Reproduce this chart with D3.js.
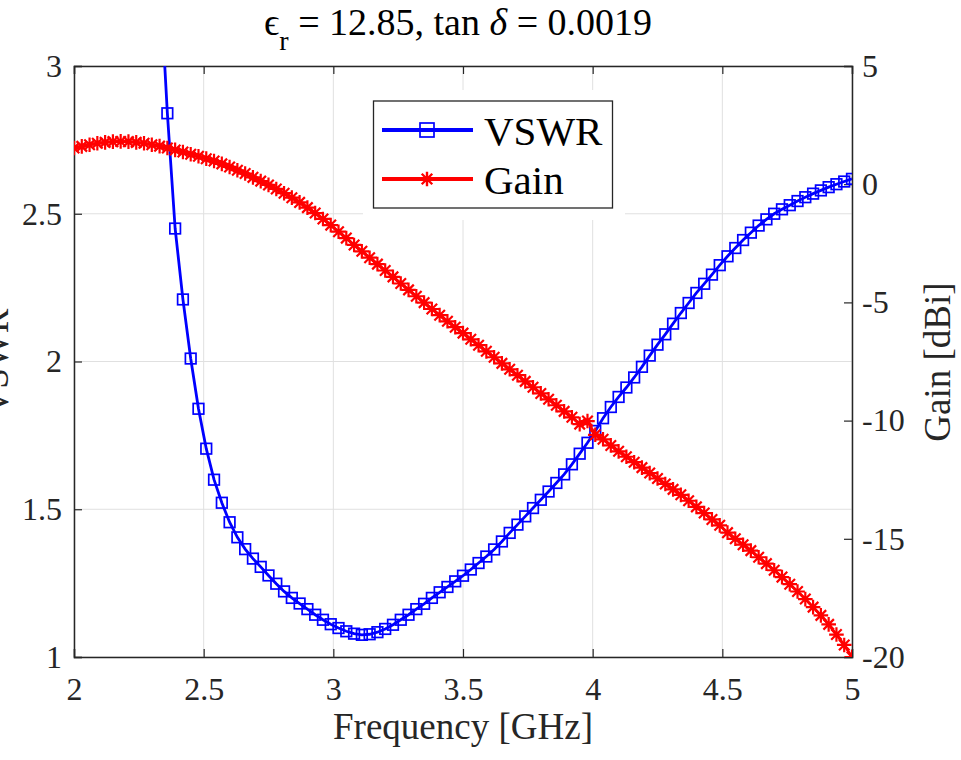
<!DOCTYPE html>
<html><head><meta charset="utf-8">
<script src="https://cdn.jsdelivr.net/npm/d3@7"></script>
<style>body{margin:0;background:#fff} svg{display:block} text{font-family:'Liberation Serif','Times New Roman',serif}</style>
</head><body>
<svg id="c" width="961" height="760"></svg>
<script>
const freq = [2.00,2.03,2.06,2.09,2.12,2.15,2.18,2.21,2.24,2.27,2.30,2.33,2.36,2.39,2.42,2.45,2.48,2.51,2.54,2.57,
2.60,2.63,2.66,2.69,2.72,2.75,2.78,2.81,2.84,2.87,2.90,2.93,2.96,2.99,3.02,3.05,3.08,3.11,3.14,3.17,
3.20,3.23,3.26,3.29,3.32,3.35,3.38,3.41,3.44,3.47,3.50,3.53,3.56,3.59,3.62,3.65,3.68,3.71,3.74,3.77,
3.80,3.83,3.86,3.89,3.92,3.95,3.98,4.01,4.04,4.07,4.10,4.13,4.16,4.19,4.22,4.25,4.28,4.31,4.34,4.37,
4.40,4.43,4.46,4.49,4.52,4.55,4.58,4.61,4.64,4.67,4.70,4.73,4.76,4.79,4.82,4.85,4.88,4.91,4.94,4.97,5.00];
const vswr = [12.0,10.6,9.3,8.2,7.2,6.3,5.5,4.8,4.3,3.85,3.55,3.32,2.84,2.45,2.21,2.01,1.84,1.705,1.60,1.522,
1.456,1.405,1.365,1.333,1.305,1.276,1.248,1.222,1.200,1.181,1.162,1.143,1.126,1.111,1.098,1.087,1.079,1.075,1.077,1.084,
1.095,1.109,1.126,1.143,1.162,1.180,1.200,1.219,1.237,1.256,1.275,1.296,1.318,1.340,1.364,1.391,1.420,1.448,1.476,1.504,
1.532,1.560,1.589,1.618,1.652,1.688,1.725,1.765,1.808,1.846,1.880,1.912,1.946,1.982,2.020,2.057,2.092,2.128,2.164,2.198,
2.232,2.263,2.294,2.326,2.356,2.384,2.411,2.436,2.460,2.481,2.500,2.515,2.529,2.543,2.556,2.568,2.579,2.590,2.600,2.609,2.618];
const gain = [1.53,1.60,1.67,1.73,1.77,1.80,1.81,1.80,1.77,1.73,1.67,1.61,1.53,1.45,1.36,1.27,1.18,1.08,0.98,0.86,
0.73,0.59,0.45,0.29,0.13,-0.03,-0.20,-0.38,-0.57,-0.77,-0.99,-1.22,-1.47,-1.73,-2.01,-2.28,-2.57,-2.84,-3.11,-3.38,
-3.65,-3.92,-4.20,-4.47,-4.74,-5.01,-5.28,-5.54,-5.80,-6.05,-6.30,-6.56,-6.81,-7.07,-7.32,-7.58,-7.83,-8.08,-8.34,-8.59,
-8.85,-9.10,-9.35,-9.61,-9.86,-10.15,-10.02,-10.60,-10.79,-11.05,-11.30,-11.53,-11.76,-11.99,-12.22,-12.45,-12.68,-12.91,-13.14,-13.39,
-13.65,-13.91,-14.18,-14.43,-14.74,-15.00,-15.25,-15.50,-15.78,-16.05,-16.33,-16.62,-16.92,-17.23,-17.55,-17.89,-18.24,-18.62,-19.05,-19.49,-20.0];
const xTicks = [2,2.5,3,3.5,4,4.5,5];
const xTickLabels = ["2","2.5","3","3.5","4","4.5","5"];
const yLTicks = [1,1.5,2,2.5,3];
const yLTickLabels = ["1","1.5","2","2.5","3"];
const yRTicks = [-20,-15,-10,-5,0,5];
const yRTickLabels = ["-20","-15","-10","-5","0","5"];
const seriesNames = ["VSWR","Gain"];

const FONT = "'Liberation Serif','Times New Roman',serif";
const L=74, R=852, T=66, B=657;
const svg = d3.select("#c");
const x = d3.scaleLinear().domain([2,5]).range([L,R]);
const yL = d3.scaleLinear().domain([1,3]).range([B,T]);
const yR = d3.scaleLinear().domain([-20,5]).range([B,T]);
const axisCol = "#262626";

svg.append("defs").append("clipPath").attr("id","clip")
  .append("rect").attr("x",L).attr("y",T).attr("width",R-L).attr("height",B-T);

// grid
const g = svg.append("g");
g.selectAll(".gx").data(xTicks).join("line")
  .attr("x1",d=>x(d)).attr("x2",d=>x(d)).attr("y1",T).attr("y2",B)
  .attr("stroke","#e0e0e0").attr("stroke-width",1);
g.selectAll(".gy").data(yLTicks).join("line")
  .attr("x1",L).attr("x2",R).attr("y1",d=>yL(d)).attr("y2",d=>yL(d))
  .attr("stroke","#e0e0e0").attr("stroke-width",1);

// axes (inward ticks)
const axB = svg.append("g").attr("transform",`translate(0,${B})`)
  .call(d3.axisBottom(x).tickValues(xTicks).tickFormat(d=>xTickLabels[xTicks.indexOf(d)]).tickSize(-8).tickPadding(20));
const axT = svg.append("g").attr("transform",`translate(0,${T})`)
  .call(d3.axisTop(x).tickValues(xTicks).tickFormat("").tickSize(-8));
const axL = svg.append("g").attr("transform",`translate(${L},0)`)
  .call(d3.axisLeft(yL).tickValues(yLTicks).tickFormat(d=>yLTickLabels[yLTicks.indexOf(d)]).tickSize(-8).tickPadding(12));
const axR = svg.append("g").attr("transform",`translate(${R},0)`)
  .call(d3.axisRight(yR).tickValues(yRTicks).tickFormat(d=>yRTickLabels[yRTicks.indexOf(d)]).tickSize(-8).tickPadding(10));
[axB,axT,axL,axR].forEach(a=>{
  a.attr("font-family",FONT);
  a.selectAll("path").attr("stroke",axisCol).attr("stroke-width",1.5);
  a.selectAll("line").attr("stroke",axisCol).attr("stroke-width",1.2);
  a.selectAll("text").style("font-family",FONT).attr("font-size",32).attr("fill","#262626");
});
axB.selectAll("text").attr("dy","0.71em");

// series
const plot = svg.append("g").attr("clip-path","url(#clip)");
const idx = d3.range(freq.length);
const lineV = d3.line().x(i=>x(freq[i])).y(i=>yL(vswr[i]));
const lineG = d3.line().x(i=>x(freq[i])).y(i=>yR(gain[i]));
const blue="#0000ff", red="#ff0000";
plot.append("path").attr("d",lineV(idx)).attr("fill","none").attr("stroke",blue).attr("stroke-width",2.8);
plot.selectAll(".sq").data(idx).join("rect")
  .attr("x",i=>x(freq[i])-5.3).attr("y",i=>yL(vswr[i])-5.3).attr("width",10.6).attr("height",10.6)
  .attr("fill","none").attr("stroke",blue).attr("stroke-width",1.7);
plot.append("path").attr("d",lineG(idx)).attr("fill","none").attr("stroke",red).attr("stroke-width",2.8);
const s=7.3, k=0.72*s;
const star = `M${-s},0H${s}M0,${-s}V${s}M${-k},${-k}L${k},${k}M${-k},${k}L${k},${-k}`;
plot.selectAll(".st").data(idx).join("path")
  .attr("transform",i=>`translate(${x(freq[i])},${yR(gain[i])})`)
  .attr("d",star).attr("fill","none").attr("stroke",red).attr("stroke-width",2.2);

// legend
const lg = svg.append("g");
lg.append("rect").attr("x",363).attr("y",90).attr("width",262).attr("height",130).attr("fill","#fff");
lg.append("rect").attr("x",373.5).attr("y",101).attr("width",239).attr("height",107)
  .attr("fill","#fff").attr("stroke",axisCol).attr("stroke-width",1.3);
const ly = [130,179];
lg.append("line").attr("x1",382).attr("x2",473).attr("y1",ly[0]).attr("y2",ly[0]).attr("stroke",blue).attr("stroke-width",4);
lg.append("rect").attr("x",420).attr("y",ly[0]-7).attr("width",14).attr("height",14).attr("fill","none").attr("stroke",blue).attr("stroke-width",1.7);
lg.append("line").attr("x1",382).attr("x2",473).attr("y1",ly[1]).attr("y2",ly[1]).attr("stroke",red).attr("stroke-width",4);
lg.append("path").attr("transform",`translate(427,${ly[1]})`).attr("d",star).attr("fill","none").attr("stroke",red).attr("stroke-width",2.4);
lg.selectAll(".lt").data(seriesNames).join("text")
  .attr("x",484).attr("y",(d,i)=>ly[i]+15).text(d=>d)
  .attr("font-family",FONT).attr("font-size",41).attr("fill","#000");

// labels
svg.append("text").attr("x",463).attr("y",739).attr("text-anchor","middle")
  .attr("font-family",FONT).attr("font-size",37).attr("fill","#262626").text("Frequency [GHz]");
svg.append("text").attr("transform",`translate(8,362) rotate(-90)`).attr("text-anchor","middle")
  .attr("font-family",FONT).attr("font-size",37).attr("fill","#262626").text("VSWR");
svg.append("text").attr("transform",`translate(950,362) rotate(-90)`).attr("text-anchor","middle")
  .attr("font-family",FONT).attr("font-size",37).attr("fill","#262626").text("Gain [dBi]");

// title
const tt = svg.append("text").attr("x",458).attr("y",35).attr("text-anchor","middle")
  .attr("font-family",FONT).attr("font-size",38).attr("fill","#000");
tt.append("tspan").text("ϵ");
tt.append("tspan").attr("dy",15).attr("font-size",28).text("r");
tt.append("tspan").attr("dy",-15).text(" = 12.85, tan ");
tt.append("tspan").attr("font-style","italic").text("δ");
tt.append("tspan").text(" = 0.0019");
</script>
</body></html>
